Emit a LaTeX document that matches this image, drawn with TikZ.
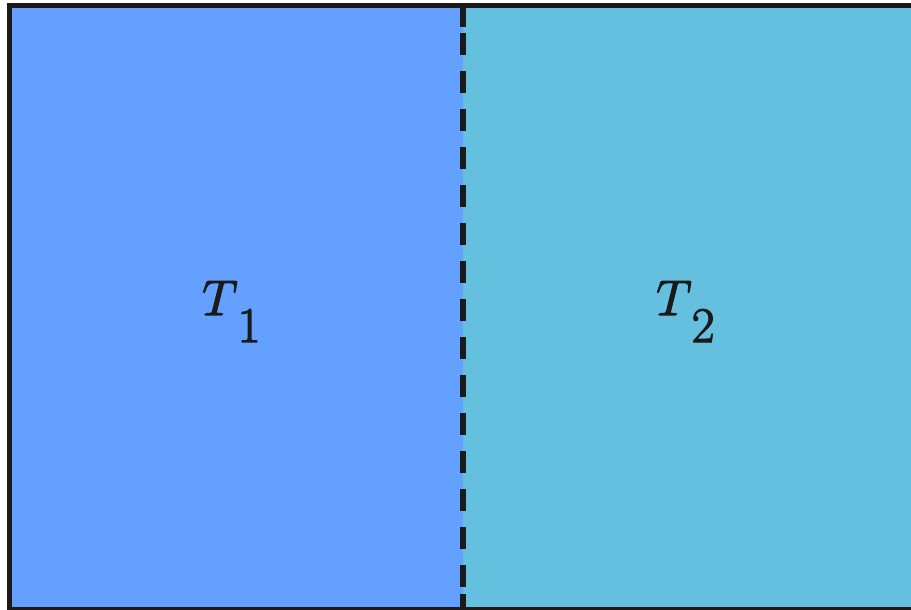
\documentclass[tikz,border=0pt]{standalone}
\definecolor{leftblue}{RGB}{100,160,255}
\definecolor{rightblue}{RGB}{101,192,224}
\definecolor{inkdark}{RGB}{26,26,26}
\newcommand{\heavytext}[1]{\special{pdf:literal direct 0.6 w 2 Tr}#1\special{pdf:literal direct 0 Tr}}
\tikzset{
  region/.style={draw=none},
  frame/.style={draw=inkdark, line width=2.5pt},
  divider/.style={draw=inkdark, line width=2.6pt, dash pattern=on 10.75pt off 8.25pt},
  stub/.style={draw=inkdark, line width=2.6pt},
  label/.style={anchor=base west, inner sep=0pt, text=inkdark, font=\fontsize{26}{30}\selectfont}
}
\begin{document}
\begin{tikzpicture}[x=0.5pt,y=-0.5pt]
\useasboundingbox (0,0) rectangle (911,610);
\clip (0,0) rectangle (911,610);
\fill[leftblue] (9.5,6) rectangle (463,609.5);
\fill[rightblue] (463,6) rectangle (915,609.5);
\coordinate (dtop) at (463,33.3);
\coordinate (dbot) at (463,609.5);
\coordinate (stop) at (463,6);
\coordinate (sbot) at (463,27.3);
\coordinate (btop) at (463,594);
\draw[divider] (dtop) -- (dbot);
\draw[stub] (stop) -- (sbot);
\draw[stub] (btop) -- (dbot);
\draw[frame] (9.5,6) rectangle (915,609.5);
\node[label] (t1) at (202,315) {\heavytext{$T$\raisebox{-13.5pt}{$1$}}};
\node[label] (t2) at (656,315) {\heavytext{$T$\raisebox{-13.5pt}{$2$}}};
\end{tikzpicture}
\end{document}
